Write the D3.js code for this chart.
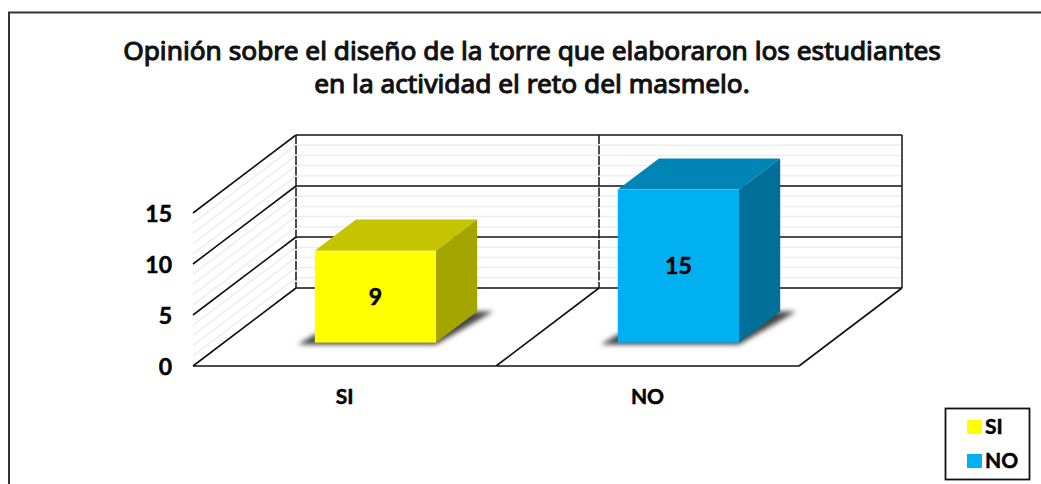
<!DOCTYPE html>
<html>
<head>
<meta charset="utf-8">
<script src="https://cdn.jsdelivr.net/npm/d3@7"></script>
<style>
  html, body { margin: 0; padding: 0; background: #fff; overflow: hidden; }
</style>
</head>
<body>
<svg id="chart" width="1041" height="484"></svg>
<script>
const categories = ["SI", "NO"];
const values = [9, 15];
const colors = ["#ffff00", "#00b0f0"];
const topColors = ["#c4c400", "#0085b6"];
const sideColors = ["#a5a500", "#00709a"];
const yTicks = [0, 5, 10, 15];
const minorTicks = d3.range(0, 15);
const titleLines = [
  "Opinión sobre el diseño de la torre que elaboraron los estudiantes",
  "en la actividad el reto del masmelo."
];

const svg = d3.select("#chart");
const labelFont = "Lato, sans-serif";
const titleFont = "'Noto Sans', sans-serif";

// plot floor front edge, and the depth vector going to the back wall
const xScale = d3.scaleBand().domain(categories).range([193, 799]);
const yScale = d3.scaleLinear().domain([0, 15]).range([366, 213]);
const depth = { x: 103, y: -78 };
const barDepth = { from: 0.3, to: 0.7 };
const barPad = 0.3;
const left = xScale.range()[0];
const right = xScale.range()[1];

const defs = svg.append("defs");
defs.append("filter").attr("id", "blur")
  .attr("x", "-20%").attr("y", "-50%").attr("width", "140%").attr("height", "200%")
  .append("feGaussianBlur").attr("stdDeviation", 2.4);

// outer frame, only top and left show in the picture
svg.append("path")
  .attr("d", "M9,484V12.5H1041")
  .attr("fill", "none")
  .attr("stroke", "#333")
  .attr("stroke-width", 2);

svg.append("g").selectAll("text")
  .data(titleLines)
  .join("text")
  .attr("x", 532)
  .attr("y", (d, i) => 60 + i * 33)
  .attr("text-anchor", "middle")
  .attr("font-family", titleFont)
  .attr("font-size", 26.3)
  .attr("font-weight", 400)
  .attr("fill", "#111")
  .attr("stroke", "#111")
  .attr("stroke-width", 1.1)
  .text(d => d);

const line = (x1, y1, x2, y2) => `M${x1},${y1}L${x2},${y2}`;
const grid = svg.append("g").attr("fill", "none");

// minor grid, back wall and side wall
grid.selectAll(".minor")
  .data(minorTicks.filter(d => d % 5 !== 0))
  .join("path")
  .attr("d", d => {
    const y = yScale(d);
    return line(left, y, left + depth.x, y + depth.y) + line(left + depth.x, y + depth.y, right + depth.x, y + depth.y);
  })
  .attr("stroke", "#eeeeee")
  .attr("stroke-width", 1.5);

// major grid
grid.selectAll(".major")
  .data(yTicks)
  .join("path")
  .attr("d", d => {
    const y = yScale(d);
    return line(left, y, left + depth.x, y + depth.y) + line(left + depth.x, y + depth.y, right + depth.x, y + depth.y);
  })
  .attr("stroke", "#111")
  .attr("stroke-width", 1.6);

// vertical wall lines and floor edges
const wallTop = yScale(15) + depth.y;
const wallBottom = yScale(0) + depth.y;
grid.append("path")
  .attr("d", line(left + depth.x, wallTop, left + depth.x, wallBottom))
  .attr("stroke", "#222").attr("stroke-width", 1.6).attr("stroke-dasharray", "9,1.5");
grid.append("path")
  .attr("d", line(xScale("NO") + depth.x, wallTop, xScale("NO") + depth.x, wallBottom))
  .attr("stroke", "#222").attr("stroke-width", 1.6).attr("stroke-dasharray", "9,1.5");
grid.append("path")
  .attr("d", line(right + depth.x, wallTop, right + depth.x, wallBottom))
  .attr("stroke", "#222").attr("stroke-width", 1.6);
grid.append("path")
  .attr("d", line(left, yScale(0), right, yScale(0))
    + line(right, yScale(0), right + depth.x, wallBottom)
    + line(xScale("NO"), yScale(0), xScale("NO") + depth.x, wallBottom))
  .attr("stroke", "#111").attr("stroke-width", 1.6);

// y axis labels
svg.append("g").selectAll("text")
  .data(yTicks)
  .join("text")
  .attr("x", 172)
  .attr("y", d => yScale(d) + 9)
  .attr("text-anchor", "end")
  .attr("font-family", labelFont)
  .attr("font-size", 23)
  .attr("font-weight", 700)
  .attr("stroke", "#000")
  .attr("stroke-width", 0.5)
  .text(d => d);

// x axis labels
svg.append("g").selectAll("text")
  .data(categories)
  .join("text")
  .attr("x", d => xScale(d) + xScale.bandwidth() / 2)
  .attr("y", 404)
  .attr("text-anchor", "middle")
  .attr("font-family", labelFont)
  .attr("font-size", 21)
  .attr("font-weight", 700)
  .attr("stroke", "#000")
  .attr("stroke-width", 0.5)
  .text(d => d);

// bars
const bars = svg.append("g").selectAll("g")
  .data(categories.map((c, i) => ({ c, v: values[i], i })))
  .join("g");

const dims = d => {
  const w = xScale.bandwidth() * (1 - barPad * 2);
  const x0 = xScale(d.c) + xScale.bandwidth() * barPad + depth.x * barDepth.from;
  const x1 = x0 + w;
  const yb = yScale(0) + depth.y * barDepth.from;
  const yt = yScale(d.v) + depth.y * barDepth.from;
  const dx = depth.x * (barDepth.to - barDepth.from);
  const dy = depth.y * (barDepth.to - barDepth.from);
  return { x0, x1, yb, yt, dx, dy };
};

bars.append("path")
  .attr("d", d => {
    const b = dims(d);
    return `M${b.x0 - 17},${b.yb + 2}L${b.x1},${b.yb + 2}L${b.x1 + b.dx + 16},${b.yb + b.dy}L${b.x1 + b.dx - 10},${b.yb + b.dy}L${b.x0},${b.yb - 8}Z`;
  })
  .attr("fill", "#444")
  .attr("filter", "url(#blur)");

bars.append("path")
  .attr("d", d => {
    const b = dims(d);
    return `M${b.x0},${b.yt}L${b.x0 + b.dx},${b.yt + b.dy}L${b.x1 + b.dx},${b.yt + b.dy}L${b.x1},${b.yt}Z`;
  })
  .attr("fill", d => topColors[d.i]);

bars.append("path")
  .attr("d", d => {
    const b = dims(d);
    return `M${b.x1},${b.yt}L${b.x1 + b.dx},${b.yt + b.dy}L${b.x1 + b.dx},${b.yb + b.dy}L${b.x1},${b.yb}Z`;
  })
  .attr("fill", d => sideColors[d.i]);

bars.append("rect")
  .attr("x", d => dims(d).x0)
  .attr("y", d => dims(d).yt)
  .attr("width", d => dims(d).x1 - dims(d).x0)
  .attr("height", d => dims(d).yb - dims(d).yt)
  .attr("fill", d => colors[d.i]);

bars.append("text")
  .attr("x", d => (dims(d).x0 + dims(d).x1) / 2)
  .attr("y", d => (dims(d).yb + dims(d).yt) / 2 + 8)
  .attr("text-anchor", "middle")
  .attr("font-family", labelFont)
  .attr("font-size", 23)
  .attr("font-weight", 700)
  .attr("stroke", "#000")
  .attr("stroke-width", 0.5)
  .text(d => d.v);

// legend
const legend = svg.append("g");
legend.append("rect")
  .attr("x", 945.5).attr("y", 408.5).attr("width", 84).attr("height", 71)
  .attr("fill", "#fff").attr("stroke", "#111").attr("stroke-width", 1.8);
const legendItem = legend.selectAll("g")
  .data(categories)
  .join("g")
  .attr("transform", (d, i) => `translate(967,${420 + i * 34})`);
legendItem.append("rect")
  .attr("width", 15).attr("height", 14)
  .attr("fill", (d, i) => colors[i]);
legendItem.append("text")
  .attr("x", 18).attr("y", 14)
  .attr("font-family", labelFont)
  .attr("font-size", 21)
  .attr("font-weight", 700)
  .attr("stroke", "#000")
  .attr("stroke-width", 0.5)
  .text(d => d);
</script>
</body>
</html>
